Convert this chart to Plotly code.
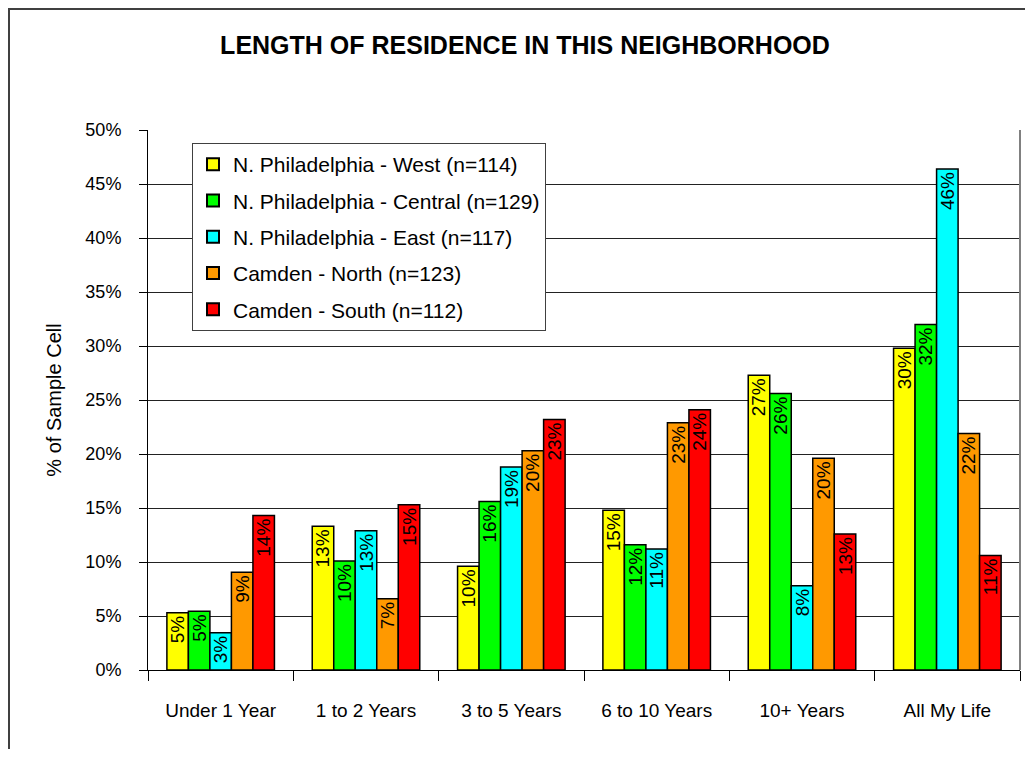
import plotly.graph_objs as go

categories = ["Under 1 Year", "1 to 2 Years", "3 to 5 Years", "6 to 10 Years", "10+ Years", "All My Life"]

series_names = ["N. Philadelphia - West (n=114)", "N. Philadelphia - Central (n=129)",
                "N. Philadelphia - East (n=117)", "Camden - North (n=123)", "Camden - South (n=112)"]

phl_west = [5.3, 13.3, 9.6, 14.8, 27.3, 29.8]
phl_central = [5.45, 10.1, 15.6, 11.6, 25.6, 32.0]
phl_east = [3.45, 12.9, 18.8, 11.2, 7.8, 46.4]
camden_north = [9.05, 6.6, 20.3, 22.9, 19.6, 21.9]
camden_south = [14.3, 15.3, 23.2, 24.1, 12.6, 10.6]

series_values = [phl_west, phl_central, phl_east, camden_north, camden_south]
colors = ["#FFFF00", "#00FF00", "#00FFFF", "#FF9900", "#FF0000"]

FONT = "Liberation Sans, Arial, sans-serif"

# page has an 8px body margin, so the figure is a bit smaller than the window
W, H = 1017, 741
L, R, T, B = 140, 5, 122, 79
plot_w, plot_h = W - L - R, H - T - B

fig = go.Figure()
for i, (name, vals) in enumerate(zip(series_names, series_values)):
    fig.add_trace(go.Bar(
        x=categories, y=vals, name=name,
        marker=dict(color=colors[i], line=dict(color="black", width=1.5)),
        text=[f"{round(v)}%" for v in vals],
        textposition="inside", insidetextanchor="end", textangle=-90,
        constraintext="none",
        textfont=dict(family=FONT, size=19, color="black"),
        legendgroup=str(i),
        hoverinfo="skip",
    ))

fig.update_layout(
    width=W, height=H,
    margin=dict(l=L, r=R, t=T, b=B),
    paper_bgcolor="white", plot_bgcolor="white",
    barmode="group", bargap=0.26, bargroupgap=0,
    font=dict(family=FONT, size=18, color="black"),
    title=dict(text="<b>LENGTH OF RESIDENCE IN THIS NEIGHBORHOOD</b>",
               x=517 / W, xanchor="center", y=1 - 37 / H, yanchor="middle",
               font=dict(family=FONT, size=25, color="black")),
    legend=dict(x=(184 - L) / plot_w, y=(662 - 135) / plot_h, xanchor="left", yanchor="top",
                bgcolor="white", bordercolor="#404040", borderwidth=1,
                font=dict(family=FONT, size=21), traceorder="grouped",
                tracegroupgap=6, itemsizing="constant"),
    showlegend=True,
)

fig.update_yaxes(range=[0, 50], dtick=5, ticksuffix="%", showgrid=True, gridcolor="#222222",
                 gridwidth=1, zeroline=False, showline=True, linecolor="black", linewidth=1,
                 ticks="outside", ticklen=8, tickcolor="black", ticklabelstandoff=14,
                 title=dict(text="% of Sample Cell", standoff=18, font=dict(size=20)),
                 tickfont=dict(size=18))
fig.update_xaxes(showline=True, linecolor="black", linewidth=1, ticks="outside", ticklen=10,
                 tickcolor="black", tickson="boundaries", ticklabelstandoff=23,
                 tickfont=dict(size=19))

# plot area right border and outer chart frame
fig.add_shape(type="line", xref="paper", yref="paper", x0=1, x1=1, y0=0, y1=1,
              line=dict(color="#808080", width=2))
fig.add_shape(type="rect", xref="paper", yref="paper", x0=(1 - L) / plot_w, x1=1.2,
              y0=-0.3, y1=(H - B - 1) / plot_h, line=dict(color="#404040", width=2), layer="below")

fig.write_html("out.html")
